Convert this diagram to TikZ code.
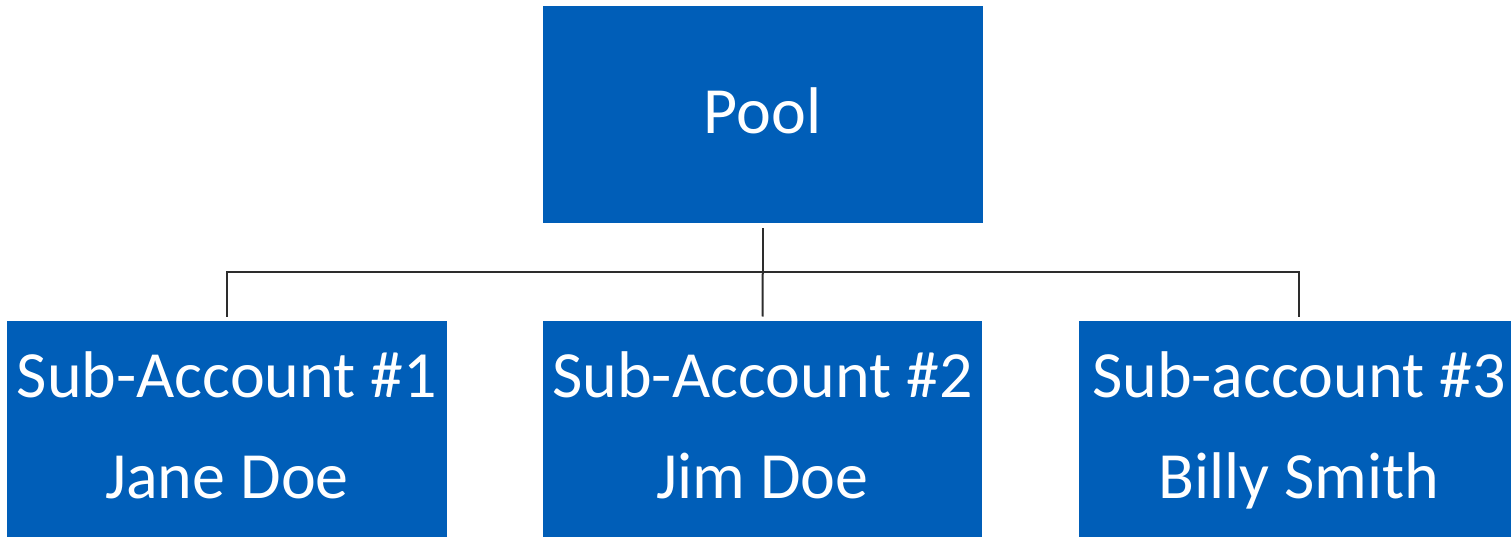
\documentclass[tikz,border=0pt]{standalone}
\usepackage{fontspec}
\setmainfont{Carlito}
\definecolor{boxblue}{RGB}{0,94,184}
\definecolor{linegray}{RGB}{45,45,45}
\begin{document}
\begin{tikzpicture}[x=1pt,y=1pt,
  acct/.style={rectangle, fill=boxblue, inner sep=0pt,
    minimum width=439.5pt, minimum height=217.5pt},
  boxtext/.style={text=white, anchor=base, inner sep=0pt, font=\fontsize{66}{66}\selectfont},
  conn/.style={draw=linegray, line width=2pt}]
\useasboundingbox (0,0) rectangle (1511,-537);
\clip (0,0) rectangle (1511,-537);

% boxes
\node[acct] (pool) at (762.75,-114.75) {};
\node[acct] (s1) at (227,-429.75) {};
\node[acct] (s2) at (762.5,-429.75) {};
\node[acct] (s3) at (1299,-429.75) {};

% labels
\node[boxtext] (tpool) at (pool.center |- 0,-134) {Pool};
\node[boxtext] (t1a) at (s1.center |- 0,-397.7) {Sub-Account \#1};
\node[boxtext] (t1b) at (s1.center |- 0,-498) {Jane Doe};
\node[boxtext] (t2a) at (s2.center |- 0,-397.7) {Sub-Account \#2};
\node[boxtext] (t2b) at (s2.center |- 0,-498) {Jim Doe};
\node[boxtext] (t3a) at (s3.center |- 0,-397.7) {Sub-account \#3};
\node[boxtext] (t3b) at (s3.center |- 0,-498) {Billy Smith};

% org-chart connectors
\coordinate (j) at (pool.south |- 0,-272);
\draw[conn] ([yshift=-4.5pt]pool.south) -- (j);
\draw[conn] ([yshift=4.3pt]s1.north) |- (j) -| ([yshift=4.3pt]s3.north);
\draw[conn] (j) -- ([yshift=4.3pt]s2.north);
\end{tikzpicture}
\end{document}
